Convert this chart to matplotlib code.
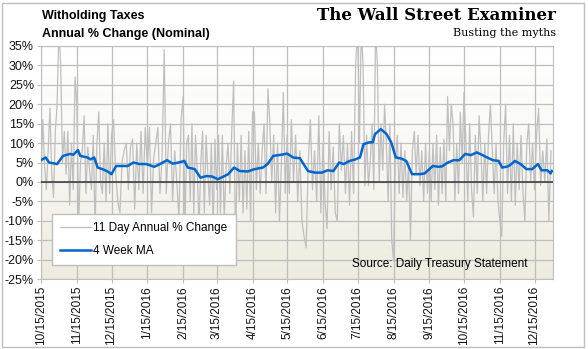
import numpy as np
import pandas as pd
import matplotlib
matplotlib.use("Agg")
import matplotlib.pyplot as plt
import matplotlib.dates as mdates
from matplotlib.colors import LinearSegmentedColormap
from matplotlib.lines import Line2D

plt.rcParams['font.family'] = ['Liberation Sans', 'DejaVu Sans']

# 4 week moving average
ma_dates = ["2015-10-15", "2015-10-19", "2015-10-22", "2015-10-29", "2015-11-03", "2015-11-09",
            "2015-11-12", "2015-11-16", "2015-11-18", "2015-11-24", "2015-11-27", "2015-11-30",
            "2015-12-03", "2015-12-07", "2015-12-11", "2015-12-15", "2015-12-19", "2015-12-24",
            "2015-12-29", "2016-01-03", "2016-01-08", "2016-01-14", "2016-01-21", "2016-01-26",
            "2016-02-01", "2016-02-06", "2016-02-11", "2016-02-16", "2016-02-19", "2016-02-25",
            "2016-03-01", "2016-03-06", "2016-03-11", "2016-03-16", "2016-03-21", "2016-03-25",
            "2016-03-30", "2016-04-04", "2016-04-11", "2016-04-17", "2016-04-24", "2016-04-28",
            "2016-05-03", "2016-05-10", "2016-05-15", "2016-05-20", "2016-05-26", "2016-06-02",
            "2016-06-08", "2016-06-14", "2016-06-19", "2016-06-24", "2016-06-29", "2016-07-03",
            "2016-07-08", "2016-07-13", "2016-07-17", "2016-07-20", "2016-07-25", "2016-07-28",
            "2016-07-30", "2016-08-04", "2016-08-09", "2016-08-13", "2016-08-17", "2016-08-22",
            "2016-08-26", "2016-08-31", "2016-09-07", "2016-09-11", "2016-09-18", "2016-09-23",
            "2016-09-26", "2016-10-01", "2016-10-06", "2016-10-11", "2016-10-16", "2016-10-21",
            "2016-10-26", "2016-10-31", "2016-11-04", "2016-11-09", "2016-11-14", "2016-11-17",
            "2016-11-22", "2016-11-25", "2016-11-28", "2016-12-03", "2016-12-08", "2016-12-13",
            "2016-12-18", "2016-12-21", "2016-12-26", "2016-12-29", "2016-12-30"]
ma_values = [5.6, 6.3, 5.0, 4.6, 6.7, 7.2, 7.0, 8.2, 6.7, 6.3, 5.8, 6.3,
             3.7, 3.3, 2.8, 2.0, 4.1, 4.1, 4.1, 5.0, 4.6, 4.6, 3.9, 4.6,
             5.6, 4.7, 5.0, 5.4, 3.7, 3.3, 1.1, 1.5, 1.4, 0.7, 1.4, 2.0,
             3.7, 2.8, 2.7, 3.3, 3.7, 4.6, 6.7, 7.0, 7.3, 6.3, 6.1, 2.8,
             2.4, 2.4, 3.0, 2.8, 5.0, 4.6, 5.4, 5.8, 6.3, 9.7, 10.2, 10.2,
             12.3, 13.6, 12.3, 10.2, 6.3, 6.0, 5.4, 2.0, 2.0, 2.2, 4.1, 3.9,
             4.0, 5.0, 5.6, 5.6, 7.2, 6.9, 7.6, 6.9, 6.3, 5.6, 5.4, 3.7,
             4.0, 4.6, 5.4, 4.6, 3.3, 3.3, 4.6, 3.0, 3.0, 2.2, 2.8]

# 11 day annual % change, one list per month (15th to 15th)
gray_starts = ["2015-10-15", "2015-11-15", "2015-12-15", "2016-01-15", "2016-02-15",
               "2016-03-15", "2016-04-15", "2016-05-15", "2016-06-15", "2016-07-15",
               "2016-08-15", "2016-09-15", "2016-10-15", "2016-11-15", "2016-12-15",
               "2016-12-31"]
gray_values = [
    [3, 16, 4, -2, 8, 19, 2, -4, 13, 20, 40, 30, 5, 13, 2, 13, -6, 10, -2, 27],
    [20, -11, 5, 8, 17, -3, 9, 3, -2, 12, -12, 10, 18, 0, -3, 10, -5, 15, -3],
    [12, 16, 2, -5, -8, 5, 8, 10, -2, 9, 11, -7, 10, -2, 13, -3, 14],
    [4, 14, -8, 6, 10, 14, -3, 6, 34, -3, 10, 15, -5, 8, 0, -10, 16],
    [22, -12, 10, 12, -5, 15, -8, 12, 3, -12, 5, 13, -8, 12, 2, -6, 10, -12, 11],
    [-2, 12, -8, 12, -10, 4, 10, -3, 13, 26, -17, 10, -5, 12, -8, 8, -7, 13, -10],
    [18, 18, -2, 10, -3, 8, 15, -3, 24, 15, 0, 12, -8, 10, -10, 5, 23, -3],
    [12, -3, 16, 0, 12, -5, 8, -10, -14, -17, 5, 16, -2, 8, -5, 17, -8],
    [10, -5, -12, 13, -2, 9, -8, -10, 15, 3, 12, -3, 10, -6, 13, -3, 30],
    [40, 10, 40, 30, -1, 12, -1, 5, 15, -2, 40, 30, 0, 15, 3, 20, 10, -5, 15, -15],
    [-20, 5, 12, -3, 10, -4, 8, -5, 5, -15, 8, 13, 2, 12, -1, 8, -5, 10, -3],
    [8, -5, 10, -2, 12, -6, 9, -3, 11, -5, 22, 8, 20, 15, -5, 10, -3, 18, 5],
    [23, 10, -5, 15, -2, -9, 12, -3, 17, 8, -5, 10, -3, 12, 20, 8, -3, 10, -5],
    [-10, -14, 10, 20, -3, 12, -5, 15, -6, 10, -2, 12, -3, -10, 10, 15, 0, 10],
    [-2, 12, 19, -1, 8, 0, 11, -10, 8],
]

# spread each month's readings across its span
gx, gy = [], []
for i, vals in enumerate(gray_values):
    s = pd.Timestamp(gray_starts[i])
    e = pd.Timestamp(gray_starts[i + 1])
    pos = pd.date_range(s, e, periods=len(vals) + 1)[:-1]
    gx.extend(pos)
    gy.extend(vals)

fig = plt.figure(figsize=(5.88, 3.49), dpi=100)
fig.patches.append(plt.Rectangle((0.004, 0.006), 0.99, 0.986, transform=fig.transFigure,
                                 fill=False, edgecolor='#BEBEBE', lw=1))
ax = fig.add_axes([41 / 588, 70 / 349, 512 / 588, 233 / 349])

# background gradient
cmap = LinearSegmentedColormap.from_list('bg', ['#EEEBDF', '#F8F7F2', '#FFFFFF'])
grad = np.linspace(0, 1, 256).reshape(-1, 1)
ax.imshow(grad, cmap=cmap, aspect='auto', extent=[0, 1, 0, 1], origin='lower',
          transform=ax.transAxes, zorder=0)

ax.plot(gx, gy, color='#BFBFBF', lw=0.9, zorder=2)
ax.axhline(0, color='#333333', lw=1.1, zorder=3)
ax.plot(pd.to_datetime(ma_dates), ma_values, color='#0066CC', lw=1.8, zorder=4)

ax.set_ylim(-25, 35)
ax.set_yticks(range(-25, 36, 5))
ax.set_yticklabels([f"{v}%" for v in range(-25, 36, 5)])
ax.set_xlim(pd.Timestamp("2015-10-15"), pd.Timestamp("2016-12-31"))
ax.xaxis.set_major_locator(mdates.MonthLocator(bymonthday=15))
ax.xaxis.set_major_formatter(plt.FuncFormatter(
    lambda x, p: (lambda d: f"{d.month}/{d.day}/{d.year}")(mdates.num2date(x))))
plt.setp(ax.get_xticklabels(), rotation=90)

ax.grid(True, color='#BEBEBE', lw=0.9, zorder=1)
ax.set_axisbelow(True)
for sp in ax.spines.values():
    sp.set_color('#BEBEBE')
ax.tick_params(axis='both', labelsize=9, color='#BEBEBE', length=3, pad=2, labelcolor='#111111')
ax.tick_params(axis='x', labelsize=8.5)

leg = ax.legend(handles=[Line2D([], [], color='#BFBFBF', lw=0.9),
                         Line2D([], [], color='#0066CC', lw=1.8)],
                labels=['11 Day Annual % Change', '4 Week MA'],
                loc='lower left', bbox_to_anchor=(0.01, 0.035), fancybox=False,
                edgecolor='#BEBEBE', framealpha=1, fontsize=8.5, handlelength=2.6,
                handletextpad=0.2, labelspacing=0.9, borderpad=0.7)
leg.get_frame().set_linewidth(1)

ax.text(0.95, 0.065, "Source: Daily Treasury Statement", transform=ax.transAxes,
        ha='right', va='center', fontsize=8.5)

fig.text(42 / 588, 1 - 16 / 349, "Witholding Taxes", fontsize=9, fontweight='bold', va='center')
fig.text(42 / 588, 1 - 34 / 349, "Annual % Change (Nominal)", fontsize=9, fontweight='bold', va='center')
fig.text(556 / 588, 1 - 15 / 349, "The Wall Street Examiner", fontsize=12, fontweight='bold',
         family='DejaVu Serif', ha='right', va='center')
fig.text(556 / 588, 1 - 33 / 349, "Busting the myths", fontsize=8, family='DejaVu Serif',
         ha='right', va='center')

fig.savefig("out.png", dpi=100)
